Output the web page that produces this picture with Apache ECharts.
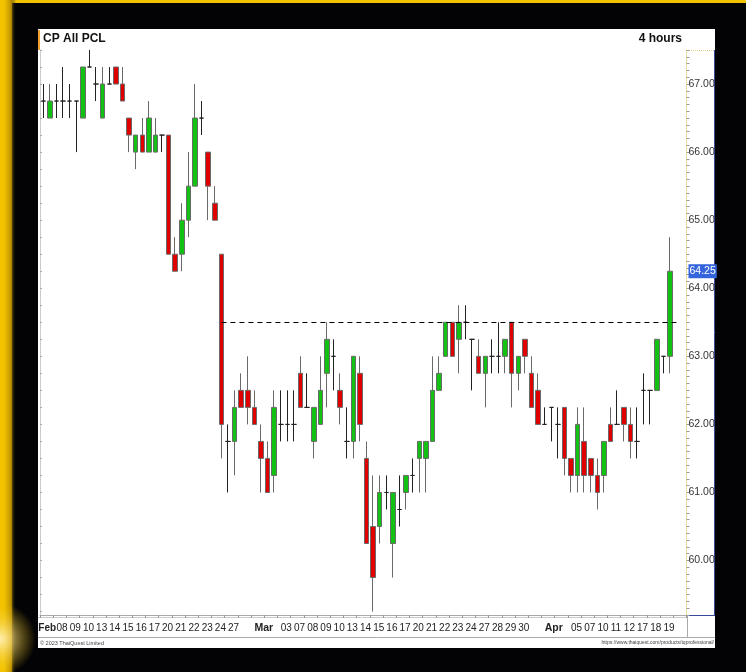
<!DOCTYPE html>
<html>
<head>
<meta charset="utf-8">
<script src="https://cdn.jsdelivr.net/npm/echarts@6/dist/echarts.min.js"></script>
<style>
html, body { margin: 0; padding: 0; background: #000; }
#chart { width: 746px; height: 672px; }
</style>
</head>
<body>
<div id="chart"></div>
<script>
// trading days (2 x 4-hour candles per day)
const days = ['Feb 07', 'Feb 08', 'Feb 09', 'Feb 10', 'Feb 13', 'Feb 14', 'Feb 15', 'Feb 16', 'Feb 17',
  'Feb 20', 'Feb 21', 'Feb 22', 'Feb 23', 'Feb 24', 'Feb 27', 'Feb 28', 'Mar 01', 'Mar 02', 'Mar 03',
  'Mar 07', 'Mar 08', 'Mar 09', 'Mar 10', 'Mar 13', 'Mar 14', 'Mar 15', 'Mar 16', 'Mar 17', 'Mar 20',
  'Mar 21', 'Mar 22', 'Mar 23', 'Mar 24', 'Mar 27', 'Mar 28', 'Mar 29', 'Mar 30', 'Mar 31', 'Apr 03',
  'Apr 04', 'Apr 05', 'Apr 07', 'Apr 10', 'Apr 11', 'Apr 12', 'Apr 17', 'Apr 18', 'Apr 19']
// label shown under each day ('' = hidden)
const dayLabels = ['Feb', '08', '09', '10', '13', '14', '15', '16', '17',
  '20', '21', '22', '23', '24', '27', '', 'Mar', '', '03',
  '07', '08', '09', '10', '13', '14', '15', '16', '17', '20',
  '21', '22', '23', '24', '27', '28', '29', '30', '', 'Apr',
  '', '05', '07', '10', '11', '12', '17', '18', '19']
const monthLabels = ['Feb', 'Mar', 'Apr']

const openPrices = [66.75, 66.50, 66.75, 66.75, 66.75, 66.75, 66.50, 67.25, 67.00, 66.50,
  67.00, 67.25, 67.00, 66.50, 66.00, 66.25, 66.00, 66.00, 66.25, 66.25,
  64.50, 64.50, 65.00, 65.50, 66.50, 66.00, 65.25, 64.50, 61.75, 61.75,
  62.50, 62.50, 62.25, 61.75, 61.50, 61.25, 62.00, 62.00, 62.00, 62.75,
  62.25, 61.75, 62.00, 62.75, 63.00, 62.50, 61.75, 61.75, 62.75, 61.50,
  60.50, 60.50, 61.00, 60.25, 60.75, 61.00, 61.25, 61.50, 61.50, 61.75,
  62.50, 63.00, 63.50, 63.25, 63.50, 63.25, 63.00, 62.75, 63.00, 63.00,
  63.00, 63.50, 62.75, 63.25, 62.75, 62.50, 62.00, 62.25, 62.00, 62.25,
  61.50, 61.25, 61.75, 61.50, 61.25, 61.25, 62.00, 62.00, 62.25, 62.00,
  61.75, 62.50, 62.50, 62.50, 63.00, 63.00]
const closePrices = [66.75, 66.75, 66.75, 66.75, 66.75, 66.75, 67.25, 67.25, 67.00, 67.00,
  67.00, 67.00, 66.75, 66.25, 66.25, 66.00, 66.50, 66.25, 66.25, 64.50,
  64.25, 65.00, 65.50, 66.50, 66.50, 65.50, 65.00, 62.00, 61.75, 62.25,
  62.25, 62.25, 62.00, 61.50, 61.00, 62.25, 62.00, 62.00, 62.00, 62.25,
  62.25, 62.25, 62.50, 63.25, 63.00, 62.25, 61.75, 63.00, 62.00, 60.25,
  59.75, 61.00, 61.00, 61.00, 60.75, 61.25, 61.25, 61.75, 61.75, 62.50,
  62.75, 63.50, 63.00, 63.50, 63.50, 63.25, 62.75, 63.00, 63.00, 63.00,
  63.25, 62.75, 63.00, 63.00, 62.25, 62.00, 62.00, 62.25, 62.00, 61.50,
  61.25, 62.00, 61.25, 61.25, 61.00, 61.75, 61.75, 62.00, 62.00, 61.75,
  61.75, 62.50, 62.50, 63.25, 63.00, 64.25]
const lowPrices = [66.50, 66.50, 66.50, 66.50, 66.50, 66.00, 66.50, 67.25, 66.75, 66.50,
  67.00, 67.00, 66.75, 66.00, 65.75, 66.00, 66.00, 66.00, 66.00, 64.50,
  64.25, 64.25, 64.75, 65.50, 66.25, 65.00, 65.00, 61.50, 61.00, 61.25,
  62.25, 62.00, 62.00, 61.00, 61.00, 61.00, 61.75, 61.75, 61.75, 62.25,
  62.25, 61.50, 62.00, 62.25, 62.50, 62.00, 61.50, 61.50, 61.75, 60.25,
  59.25, 60.25, 60.75, 59.75, 60.50, 60.75, 61.00, 61.00, 61.00, 61.75,
  62.50, 63.00, 63.00, 62.75, 63.25, 62.50, 62.75, 62.25, 62.75, 62.75,
  62.75, 62.25, 62.50, 62.75, 62.25, 62.00, 62.00, 61.75, 61.50, 61.25,
  61.00, 61.00, 61.00, 61.00, 60.75, 61.00, 61.75, 62.00, 61.75, 61.50,
  61.50, 62.00, 62.00, 62.50, 62.75, 62.75]
const highPrices = [67.00, 67.00, 67.00, 67.25, 67.00, 66.75, 67.25, 67.50, 67.25, 67.25,
  67.25, 67.25, 67.25, 66.50, 66.25, 66.50, 66.75, 66.50, 66.25, 66.25,
  64.75, 65.25, 66.00, 67.00, 66.75, 66.00, 65.50, 64.50, 62.00, 62.50,
  62.75, 63.00, 62.50, 62.00, 61.75, 62.50, 62.50, 62.50, 62.50, 63.00,
  62.75, 62.25, 63.00, 63.50, 63.25, 62.75, 62.25, 63.00, 63.00, 61.75,
  61.25, 61.25, 61.25, 61.00, 61.25, 61.25, 61.50, 61.75, 61.75, 63.00,
  63.00, 63.50, 63.50, 63.75, 63.75, 63.25, 63.25, 63.00, 63.25, 63.50,
  63.25, 63.50, 63.00, 63.25, 63.00, 62.75, 62.25, 62.25, 62.25, 62.25,
  61.50, 62.25, 62.25, 61.50, 61.50, 61.75, 62.25, 62.50, 62.25, 62.25,
  62.25, 62.75, 62.50, 63.25, 63.00, 64.75]

const resistance = 63.5
const lastPrice = 64.25
const dashStart = 27 // candle where the dashed line starts

const priceMin = 59.2
const priceMax = 67.5

const sans = "'Liberation Sans', Arial, sans-serif"

// categories: two candles per day, plus two empty slots on the right
const categories = []
days.forEach((d) => {
  categories.push(d + ' 1')
  categories.push(d + ' 2')
})
categories.push('')
categories.push(' ')

const candles = openPrices.map((o, i) => [o, closePrices[i], lowPrices[i], highPrices[i]])

// small ticks on the left edge every 0.25
const leftTicks = []
for (let p = 59.25; p <= 67.5; p += 0.25) leftTicks.push(p)

const chart = echarts.init(document.getElementById('chart'))

const option = {
  backgroundColor: '#000',
  animation: false,
  graphic: [
    // yellow frame and black background
    { type: 'rect', shape: { x: 0, y: 0, width: 746, height: 672 }, style: { fill: '#f3c300' }, z: -10 },
    { type: 'rect', shape: { x: 12, y: 3, width: 734, height: 669 }, style: { fill: '#030306' }, z: -9 },
    {
      type: 'rect', shape: { x: 4, y: 0, width: 12, height: 672 }, z: -8,
      style: { fill: new echarts.graphic.LinearGradient(0, 0, 1, 0, [{ offset: 0, color: '#f3c300' }, { offset: 0.5, color: '#c89a00' }, { offset: 1, color: 'rgba(3,3,6,0)' }]) }
    },
    {
      type: 'rect', shape: { x: 0, y: 540, width: 60, height: 132 }, z: -8,
      style: { fill: new echarts.graphic.RadialGradient(0, 0.75, 0.6, [{ offset: 0, color: 'rgba(255,240,190,0.95)' }, { offset: 1, color: 'rgba(243,195,0,0)' }]) }
    },
    // white panel
    { type: 'rect', shape: { x: 38, y: 29, width: 677, height: 619 }, style: { fill: '#fff' }, z: -7 },
    { type: 'rect', shape: { x: 38, y: 30, width: 2, height: 20 }, style: { fill: '#f0a030' }, z: -6 },
    // titles
    { type: 'text', left: 43, top: 33, style: { text: 'CP All PCL', fill: '#111', font: "bold 12px " + sans } },
    { type: 'text', right: 64, top: 33, style: { text: '4 hours', fill: '#111', font: "bold 12px " + sans } },
    // price column frame
    { type: 'line', shape: { x1: 687, y1: 50.5, x2: 714, y2: 50.5 }, style: { stroke: '#e6d38a', lineWidth: 1, lineDash: [1, 1] } },
    { type: 'line', shape: { x1: 714.5, y1: 50, x2: 714.5, y2: 615 }, style: { stroke: '#3a4a9a', lineWidth: 1 } },
    { type: 'line', shape: { x1: 687, y1: 615.5, x2: 715, y2: 615.5 }, style: { stroke: '#3a4a9a', lineWidth: 1 } },
    { type: 'line', shape: { x1: 687.5, y1: 615, x2: 687.5, y2: 637 }, style: { stroke: '#aaa', lineWidth: 1 } },
    { type: 'line', shape: { x1: 38, y1: 617.5, x2: 687, y2: 617.5 }, style: { stroke: '#ccc', lineWidth: 1 } },
    { type: 'line', shape: { x1: 38, y1: 637.5, x2: 715, y2: 637.5 }, style: { stroke: '#aaa', lineWidth: 1 } },
    // footers
    { type: 'text', left: 40, top: 640, style: { text: '\u00a9 2023 ThaiQuest Limited', fill: '#444', font: "5.5px " + sans } },
    { type: 'text', right: 32, top: 640, style: { text: 'https://www.thaiquest.com/products/tqprofessional/', fill: '#444', font: "5px " + sans } }
  ],
  grid: {
    left: 40,
    right: 59.5,
    top: 50,
    bottom: 57
  },
  xAxis: {
    type: 'category',
    data: categories,
    boundaryGap: true,
    axisLine: { lineStyle: { color: '#aaa' } },
    axisTick: {
      show: true,
      length: 3,
      interval: (i) => i % 2 === 0,
      lineStyle: { color: '#999' }
    },
    axisLabel: {
      interval: 0,
      align: 'left',
      margin: 8,
      fontFamily: sans,
      fontSize: 10,
      color: '#222',
      formatter: (v, i) => {
        if (i % 2 !== 0 || i / 2 >= dayLabels.length) return ''
        const t = dayLabels[i / 2]
        if (!t) return ''
        if (i === 0) return '{f|' + t + '}'
        return monthLabels.indexOf(t) >= 0 ? '{m|' + t + '}' : t
      },
      rich: {
        m: { fontWeight: 'bold', fontFamily: sans, fontSize: 10.5, color: '#222' },
        f: { fontWeight: 'bold', fontFamily: sans, fontSize: 10, color: '#222', padding: [0, 0, 0, -5] }
      }
    },
    splitLine: { show: false }
  },
  yAxis: [
    {
      type: 'value',
      position: 'right',
      min: priceMin,
      max: priceMax,
      interval: 0.1,
      axisLine: { show: true, lineStyle: { color: '#e6d38a', type: 'dotted' } },
      axisTick: { show: true, length: 3, lineStyle: { color: '#999' } },
      axisLabel: {
        margin: 2,
        fontFamily: sans,
        fontSize: 10.5,
        color: '#333',
        formatter: (v) => Math.abs(v - Math.round(v)) < 1e-6 ? v.toFixed(2) : ''
      },
      splitLine: { show: false }
    },
    {
      type: 'value',
      position: 'left',
      min: priceMin,
      max: priceMax,
      axisLine: { show: true, lineStyle: { color: '#ccc' } },
      axisTick: { show: true, inside: true, length: 2, customValues: leftTicks, lineStyle: { color: '#aaa' } },
      axisLabel: { show: false },
      splitLine: { show: false }
    }
  ],
  series: [
    {
      type: 'candlestick',
      data: candles,
      barWidth: 5,
      itemStyle: {
        color: '#12c212',
        color0: '#e00000',
        borderColor: '#6a6a6a',
        borderColor0: '#6a6a6a',
        borderColorDoji: '#222',
        borderWidth: 1
      },
      markLine: {
        silent: true,
        symbol: 'none',
        data: [
          [
            { coord: [dashStart, resistance], lineStyle: { color: '#000', type: [5, 4], width: 1 }, label: { show: false } },
            { coord: [96, resistance] }
          ],
          {
            yAxis: lastPrice,
            lineStyle: { color: 'rgba(0,0,0,0)', width: 1 },
            label: {
              show: true,
              opacity: 1,
              position: 'end',
              distance: 2,
              formatter: lastPrice.toFixed(2),
              backgroundColor: '#3565dc',
              color: '#fff',
              fontFamily: sans,
              fontSize: 10.5,
              padding: [2, 1, 1, 1]
            }
          }
        ]
      }
    }
  ]
}

chart.setOption(option)
</script>
</body>
</html>
